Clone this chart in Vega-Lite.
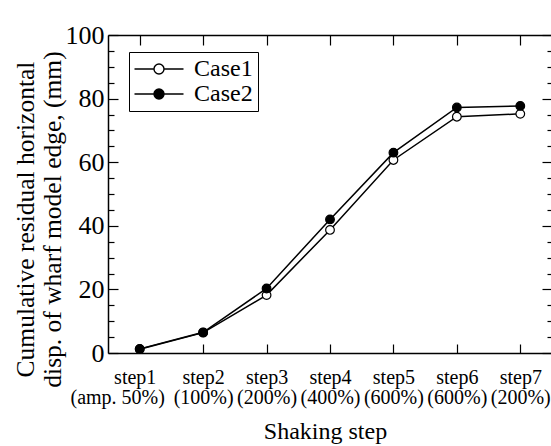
{
  "$schema": "https://vega.github.io/schema/vega-lite/v6.json",
  "width": 444,
  "height": 318,
  "autosize": {"type": "none"},
  "padding": {"left": 108, "top": 35, "right": 0, "bottom": 93},
  "background": "white",
  "config": {
    "view": {"stroke": null},
    "font": "Liberation Serif",
    "axis": {
      "domainColor": "black",
      "tickColor": "black",
      "labelColor": "black",
      "titleColor": "black",
      "grid": false,
      "labelFont": "Liberation Serif",
      "titleFont": "Liberation Serif",
      "titleFontWeight": "normal",
      "domainWidth": 1.5,
      "tickWidth": 1.2
    }
  },
  "data": {
    "values": [
      {"step": 1, "case": "Case1", "value": 1.2},
      {"step": 2, "case": "Case1", "value": 6.4},
      {"step": 3, "case": "Case1", "value": 18.2},
      {"step": 4, "case": "Case1", "value": 38.7},
      {"step": 5, "case": "Case1", "value": 60.7},
      {"step": 6, "case": "Case1", "value": 74.3},
      {"step": 7, "case": "Case1", "value": 75.2},
      {"step": 1, "case": "Case2", "value": 1.3},
      {"step": 2, "case": "Case2", "value": 6.5},
      {"step": 3, "case": "Case2", "value": 20.3},
      {"step": 4, "case": "Case2", "value": 42.0},
      {"step": 5, "case": "Case2", "value": 63.0},
      {"step": 6, "case": "Case2", "value": 77.2},
      {"step": 7, "case": "Case2", "value": 77.7}
    ]
  },
  "resolve": {"axis": {"x": "independent", "y": "independent"}},
  "layer": [
    {
      "mark": {"type": "line", "color": "black", "strokeWidth": 1.5},
      "encoding": {
        "x": {
          "field": "step",
          "type": "quantitative",
          "scale": {"domain": [0.5, 7.5], "nice": false, "zero": false},
          "axis": {
            "orient": "bottom",
            "values": [1, 2, 3, 4, 5, 6, 7],
            "tickSize": -9,
            "labelFontSize": 20,
            "labelLineHeight": 20,
            "labelPadding": 23,
            "labelOverlap": false,
            "labelOffset": {"condition": {"test": "datum.value == 1", "value": -5}, "value": 0},
            "labelExpr": "[['step1','(amp. 50%)\u00a0\u00a0\u00a0\u00a0\u00a0\u00a0\u00a0\u200b'],['step2','(100%)'],['step3','(200%)'],['step4','(400%)'],['step5','(600%)'],['step6','(600%)'],['step7','(200%)']][datum.value - 1]",
            "title": "Shaking step",
            "titleFontSize": 24,
            "titlePadding": 12,
            "titleX": 217
          }
        },
        "y": {
          "field": "value",
          "type": "quantitative",
          "scale": {"domain": [0, 100], "nice": false},
          "axis": {
            "orient": "left",
            "values": [0, 5, 10, 15, 20, 25, 30, 35, 40, 45, 50, 55, 60, 65, 70, 75, 80, 85, 90, 95, 100],
            "tickSize": {"condition": {"test": "datum.value % 20 == 0", "value": -10}, "value": -6},
            "labelExpr": "datum.value % 20 == 0 ? datum.label : ''",
            "labelFontSize": 26,
            "labelPadding": 14,
            "title": ["Cumulative residual horizontal", "disp. of wharf model edge, (mm)"],
            "titleFontSize": 25.5,
            "titleLineHeight": 27,
            "titleX": -83,
            "titleY": 184,
            "titleAnchor": null,
            "titleBaseline": "middle"
          }
        },
        "detail": {"field": "case"}
      }
    },
    {
      "mark": {"type": "point", "shape": "circle", "size": 75, "filled": true, "stroke": "black", "strokeWidth": 1.2, "opacity": 1},
      "encoding": {
        "x": {
          "field": "step",
          "type": "quantitative",
          "axis": {"orient": "top", "values": [1, 2, 3, 4, 5, 6, 7], "tickSize": -10, "labels": false, "title": null}
        },
        "y": {
          "field": "value",
          "type": "quantitative",
          "axis": {
            "orient": "right",
            "values": [0, 5, 10, 15, 20, 25, 30, 35, 40, 45, 50, 55, 60, 65, 70, 75, 80, 85, 90, 95, 100],
            "tickSize": {"condition": {"test": "datum.value % 20 == 0", "value": -10}, "value": -5},
            "labels": false,
            "title": null
          }
        },
        "fill": {
          "field": "case",
          "type": "nominal",
          "scale": {"domain": ["Case1", "Case2"], "range": ["white", "black"]},
          "legend": {
            "title": null,
            "orient": "none",
            "legendX": 21,
            "legendY": 17,
            "fillColor": "white",
            "strokeColor": "black",
            "padding": 5,
            "symbolType": "M-4.9,0H-1M1,0H4.9M1,0A1,1,0,1,1,-1,0A1,1,0,1,1,1,0Z",
            "symbolSize": 100,
            "symbolOffset": 13,
            "symbolStrokeColor": "black",
            "symbolStrokeWidth": 1.4,
            "labelFont": "Liberation Serif",
            "labelFontSize": 24,
            "labelColor": "black",
            "labelOffset": 23,
            "rowPadding": 1
          }
        }
      }
    }
  ]
}
